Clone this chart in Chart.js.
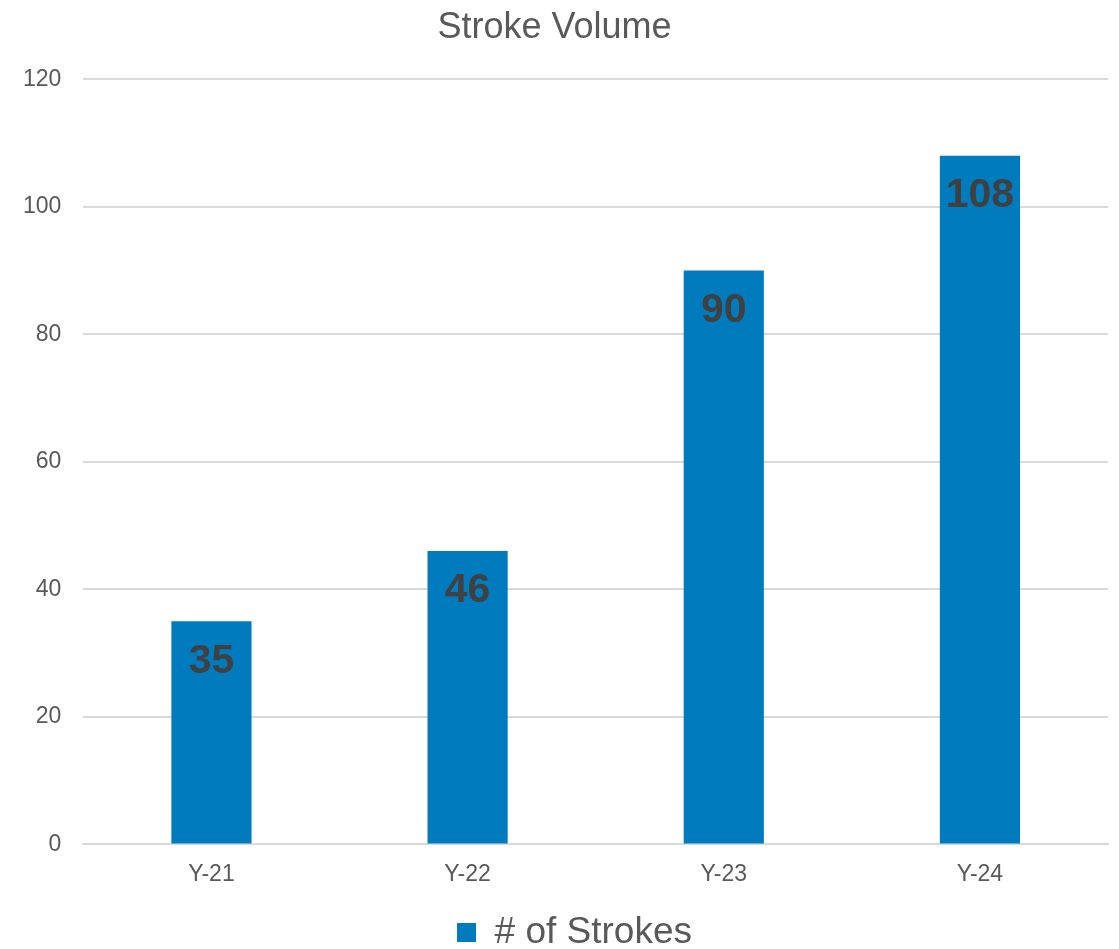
<!DOCTYPE html>
<html>
<head>
<meta charset="utf-8">
<title>Stroke Volume</title>
<script src="https://cdn.jsdelivr.net/npm/chart.js@4/dist/chart.umd.min.js"></script>
<style>
  html, body { margin: 0; padding: 0; background: #ffffff; }
  #wrap { width: 1119px; height: 949px; }
</style>
</head>
<body>
<div id="wrap"><canvas id="chart" width="1119" height="949"></canvas></div>
<script>
const categories = ['Y-21', 'Y-22', 'Y-23', 'Y-24'];
const strokes = [35, 46, 90, 108];
const seriesName = '# of Strokes';
const chartTitle = 'Stroke Volume';

const textColor = '#595959';
const barColor = '#007bbd';
const FONT = '"Liberation Sans", Arial, sans-serif';

// Draws each bar's value in bold just inside the top of the bar
const barValueLabels = {
  id: 'barValueLabels',
  afterDatasetsDraw(chart) {
    const ctx = chart.ctx;
    const meta = chart.getDatasetMeta(0);
    const yScale = chart.scales.y;
    ctx.save();
    ctx.font = 'bold 41px ' + FONT;
    ctx.fillStyle = '#404040';
    ctx.textAlign = 'center';
    ctx.textBaseline = 'middle';
    meta.data.forEach((bar, i) => {
      const v = chart.data.datasets[0].data[i];
      ctx.fillText(String(v), bar.x, yScale.getPixelForValue(v) + 40);
    });
    ctx.restore();
  }
};

// Nudges the legend a little to the right so it sits centred under the plot
const legendNudge = {
  id: 'legendNudge',
  afterLayout(chart) {
    const lg = chart.legend;
    if (lg) { lg.left += 20; lg.right += 20; }
  }
};

new Chart(document.getElementById('chart'), {
  type: 'bar',
  data: {
    labels: categories,
    datasets: [{
      label: seriesName,
      data: strokes,
      backgroundColor: barColor,
      borderWidth: 0,
      categoryPercentage: 1.0,
      barPercentage: 0.313
    }]
  },
  options: {
    responsive: false,
    animation: false,
    layout: { padding: { left: 1, right: 11, top: 4, bottom: -12 } },
    plugins: {
      title: {
        display: true,
        text: chartTitle,
        color: textColor,
        font: { family: FONT, size: 36, weight: 'normal' },
        padding: { top: 2, bottom: 30 }
      },
      legend: {
        display: true,
        position: 'bottom',
        labels: {
          color: textColor,
          font: { family: FONT, size: 37 },
          boxWidth: 19,
          boxHeight: 19,
          padding: 10
        }
      },
      tooltip: { enabled: false }
    },
    scales: {
      x: {
        grid: { display: false, drawTicks: false },
        border: { display: true, color: '#d9d9d9', width: 2 },
        ticks: {
          color: textColor,
          font: { family: FONT, size: 23 },
          padding: 16
        }
      },
      y: {
        min: 0,
        max: 120,
        grid: { color: '#d9d9d9', lineWidth: 2, drawTicks: false },
        border: { display: false },
        ticks: {
          stepSize: 20,
          color: textColor,
          font: { family: FONT, size: 23 },
          padding: 22
        }
      }
    }
  },
  plugins: [barValueLabels, legendNudge]
});
</script>
</body>
</html>
